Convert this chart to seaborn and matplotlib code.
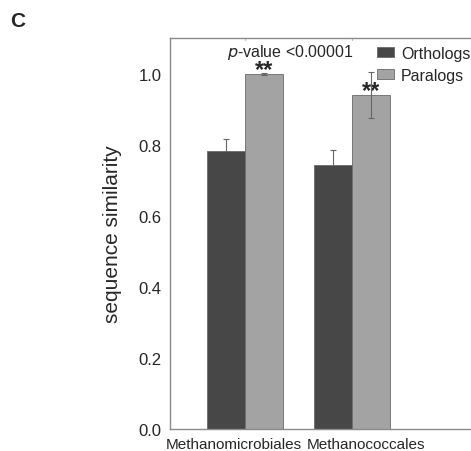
import pandas as pd
import numpy as np
import matplotlib
matplotlib.use("Agg")
import matplotlib.pyplot as plt
import matplotlib.transforms as mtransforms
import seaborn as sns

# values
orders = ["Methanomicrobiales", "Methanococcales"]
groups = ["Orthologs", "Paralogs"]
ortholog_mean = [0.782, 0.742]
ortholog_err = [0.035, 0.042]
paralog_mean = [0.998, 0.939]
paralog_err = [0.003, 0.065]

df = pd.DataFrame({
    "order": orders * 2,
    "type": [groups[0]] * 2 + [groups[1]] * 2,
    "similarity": ortholog_mean + paralog_mean,
    "err": ortholog_err + paralog_err,
})

sns.set_style("white")
plt.rcParams["font.family"] = ["Liberation Sans", "DejaVu Sans"]

fig = plt.figure(figsize=(4.71, 4.52), dpi=100)
ax = fig.add_axes([0.361, 0.0487, 0.75, 0.865])

sns.barplot(data=df, x="order", y="similarity", hue="type", order=orders,
            hue_order=groups, palette=["#474747", "#a3a3a3"], width=0.706,
            errorbar=None, edgecolor="#6a6a6a", linewidth=0.6, ax=ax)

# error bars at the bar centres; orthologs sit behind their bar
for cont, g, z in zip(ax.containers, groups, [0.5, 5]):
    sub = df[df["type"] == g].set_index("order").loc[orders]
    xs = [p.get_x() + p.get_width() / 2 for p in cont.patches]
    ax.errorbar(xs, sub["similarity"], yerr=sub["err"], fmt="none",
                ecolor="#666666", elinewidth=0.8, capsize=2, capthick=0.8, zorder=z)

ax.set_ylim(0, 1.1)
ax.set_xlim(-0.7, 2.6)
ax.set_yticks([0.0, 0.2, 0.4, 0.6, 0.8, 1.0])
ax.set_yticklabels(["0.0", "0.2", "0.4", "0.6", "0.8", "1.0"], fontsize=12)
ax.tick_params(axis="x", labelsize=11, length=0, pad=6)
ax.tick_params(axis="y", length=0, pad=6)
ax.set_xlabel("")
ax.set_ylabel("sequence similarity", fontsize=15, labelpad=12)
for s in ["left", "bottom", "top"]:
    ax.spines[s].set_color("#8a8a8a")
    ax.spines[s].set_linewidth(1.0)

# nudge the category labels apart as in the original
for lab, dx in zip(ax.get_xticklabels(), [-11, 14]):
    lab.set_transform(lab.get_transform() +
                      mtransforms.ScaledTranslation(dx / 100, 0, fig.dpi_scale_trans))

# small ticks on the top spine
for xt in range(len(orders)):
    ax.plot([xt, xt], [1.1, 1.093], color="#bbbbbb", lw=0.8, clip_on=False)

# significance annotations
par = ax.containers[1].patches
for p, m in zip(par, paralog_mean):
    ax.text(p.get_x() + p.get_width() / 2, m - 0.004, "**", ha="center",
            va="baseline", fontsize=17, fontweight="bold")
ax.text(0.42, 1.062, r"$p$-value <0.00001", ha="center", va="center", fontsize=11.5)

ax.legend(loc="upper left", bbox_to_anchor=(0.8, 0.897), bbox_transform=fig.transFigure,
          frameon=False, fontsize=11.5, handlelength=1.05, handleheight=0.62,
          handletextpad=0.45, labelspacing=0.45, borderaxespad=0, borderpad=0)

fig.text(0.021, 0.953, "C", fontsize=15, fontweight="bold", va="center")

fig.savefig("out.png", dpi=100)
